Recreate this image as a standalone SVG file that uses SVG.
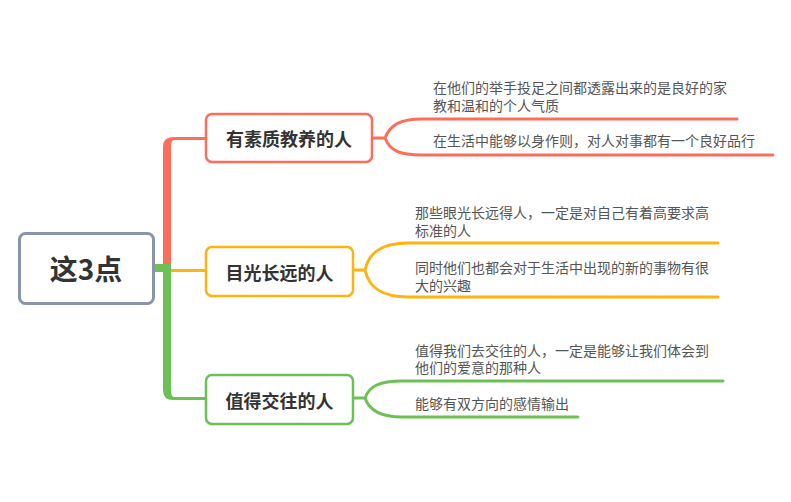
<svg xmlns="http://www.w3.org/2000/svg" width="791" height="502" viewBox="0 0 791 502">
<style>
text{font-family:"Noto Sans CJK SC","Liberation Sans",sans-serif;}
.box{fill:#fff;stroke-width:2.5;}
.bt{font-size:18px;font-weight:600;fill:#333;text-anchor:middle;dominant-baseline:central;}
.lt{font-size:14px;fill:#555;dominant-baseline:central;}
.ln{fill:none;stroke-width:3;stroke-linecap:round;}
.red{stroke:#fd6e5a;}
.org{stroke:#feb30f;}
.grn{stroke:#6cc155;}
</style>
<rect width="791" height="502" fill="#fff"/>
<g id="connectors">
<path d="M163,264 V147 Q163,137 173,137 H205 V140 H174 Q171,140 171,147 V264 Z" fill="#fd6e5a"/>
<path d="M163,264 V390 Q163,400 173,400 H205 V397 H174 Q171,397 171,390 V264 Z" fill="#6cc155"/>
<rect x="154" y="264" width="17" height="8" fill="#6cc155"/>
<path class="ln org" d="M171,270.5 H205" style="stroke-linecap:butt"/>
<path class="ln red" d="M373,138 H385 M385,138 C390,125 400,119 422,119 H737 M385,138 C390,151 400,155 422,155 H773"/>
<path class="ln org" d="M354,270 H365 M365,270 C369,252 382,243 408,243 H718 M365,270 C369,288 382,297 408,297 H718"/>
<path class="ln grn" d="M354,398 H365 M365,398 C369,386 380,381 402,381 H723 M365,398 C369,410 380,417 402,417 H578"/>
</g>
<g id="root">
<rect x="19.5" y="233.5" width="134" height="70" rx="6" fill="#fff" stroke="#8a96a8" stroke-width="3"/>
<text x="86" y="268" font-size="28" font-weight="bold" fill="#333" text-anchor="middle" dominant-baseline="central">这3点</text>
</g>
<g id="node1">
<rect class="box red" x="206" y="114" width="166" height="48" rx="6"/>
<text class="bt" x="289" y="138">有素质教养的人</text>
</g>
<g id="node2">
<rect class="box org" x="206" y="247" width="147" height="49" rx="6"/>
<text class="bt" x="279.5" y="271.5">目光长远的人</text>
</g>
<g id="node3">
<rect class="box grn" x="206" y="375" width="147" height="49" rx="6"/>
<text class="bt" x="279.5" y="399.5">值得交往的人</text>
</g>
<g id="leaf1a"><text class="lt"><tspan x="433" y="87">在他们的举手投足之间都透露出来的是良好的家</tspan><tspan x="433" y="105">教和温和的个人气质</tspan></text></g>
<g id="leaf1b"><text class="lt" x="433" y="140">在生活中能够以身作则，对人对事都有一个良好品行</text></g>
<g id="leaf2a"><text class="lt"><tspan x="415" y="212">那些眼光长远得人，一定是对自己有着高要求高</tspan><tspan x="415" y="230">标准的人</tspan></text></g>
<g id="leaf2b"><text class="lt"><tspan x="415" y="267">同时他们也都会对于生活中出现的新的事物有很</tspan><tspan x="415" y="285">大的兴趣</tspan></text></g>
<g id="leaf3a"><text class="lt"><tspan x="415" y="350">值得我们去交往的人，一定是能够让我们体会到</tspan><tspan x="415" y="367">他们的爱意的那种人</tspan></text></g>
<g id="leaf3b"><text class="lt" x="415" y="403">能够有双方向的感情输出</text></g>
</svg>
